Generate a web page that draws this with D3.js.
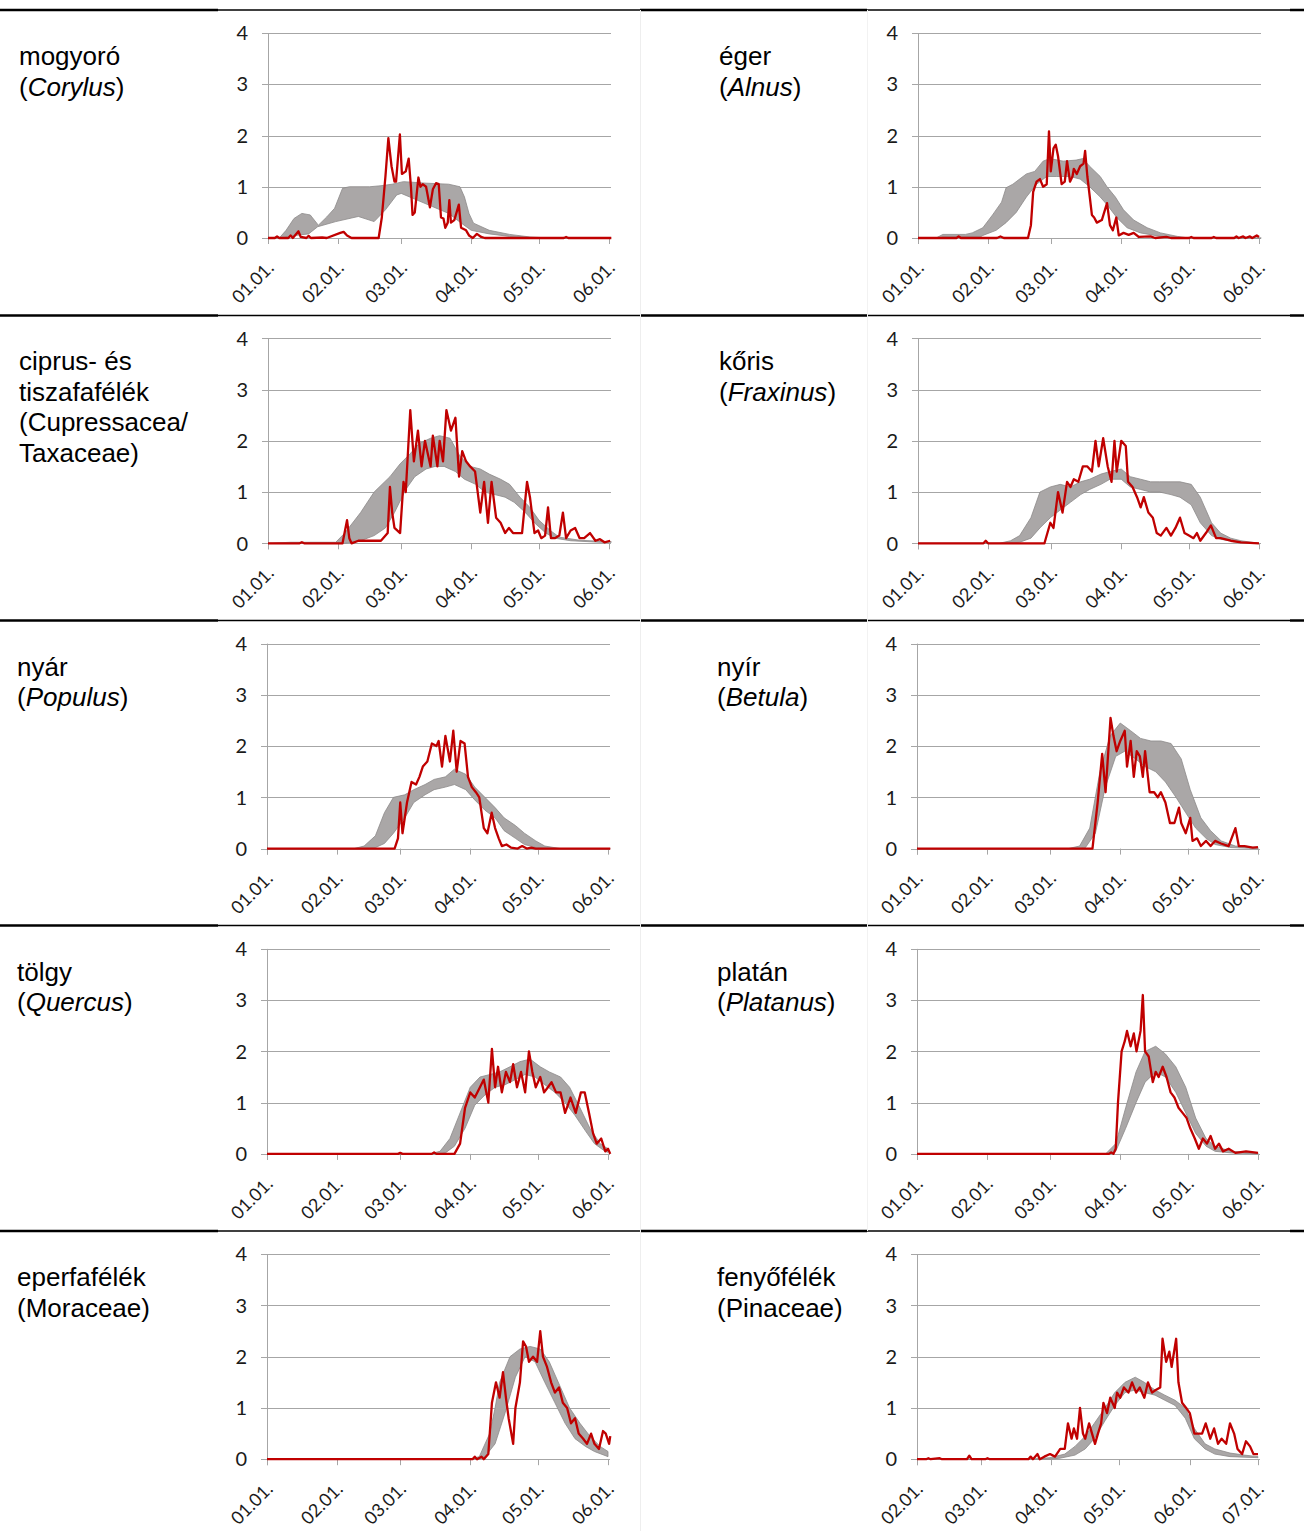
<!DOCTYPE html>
<html><head><meta charset="utf-8">
<script src="https://cdn.jsdelivr.net/npm/d3@7"></script>
<style>
html,body{margin:0;padding:0;background:#fff;}
svg{display:block;}
</style></head>
<body>
<svg id="chart" width="1304" height="1531"></svg>
<script>
// ---------- DATA (day offset from first tick date, value) ----------
const ticksJanJun = ["01.01.","02.01.","03.01.","04.01.","05.01.","06.01."];
const ticksFebJul = ["02.01.","03.01.","04.01.","05.01.","06.01.","07.01."];
const yTicks = [0,1,2,3,4];

const corylusHigh = [[0,0],[5,0],[8,0.15],[11.5,0.38],[15,0.48],[18.7,0.45],[22.3,0.25],[26,0.41],[29.5,0.58],[33,0.97],[36,1.0],[45,1.0],[50,1.02],[55,1.05],[60,1.1],[70,1.07],[80,1.05],[85,1.0],[87,0.8],[89,0.48],[91,0.29],[98,0.15],[107,0.07],[116,0.02],[125,0],[152,0]];
const corylusLow  = [[0,0],[6,0],[12,0.05],[18,0.08],[22,0.22],[30,0.32],[40,0.42],[47,0.32],[52,0.55],[57,0.84],[59,0.87],[66,0.74],[73,0.61],[80,0.48],[85.6,0.29],[90,0.15],[98,0.08],[107,0.03],[116,0.01],[125,0],[152,0]];
const corylusPollen = [[0,0],[3,0],[4,0.03],[5,0],[9,0],[10,0.05],[11,0],[13.5,0.13],[14.5,0.02],[17,0],[18,0.04],[19,0],[24,0.01],[26,0],[32,0.1],[33.5,0.12],[35,0.05],[37,0],[49,0],[50.4,0.4],[52,1.2],[53.3,1.95],[54.7,1.4],[56,1.1],[56.7,1.1],[58.4,2.02],[59.3,1.25],[61,1.3],[62.3,1.55],[63.3,1.0],[64,0.45],[65,0.5],[66.6,1.18],[67.5,1.0],[68.5,1.05],[70,1.0],[71.7,0.6],[73,0.95],[74.4,1.07],[75.6,1.05],[76.6,0.4],[77.7,0.38],[78.5,0.2],[79.6,0.3],[80.3,0.74],[81,0.3],[82.5,0.35],[84.5,0.65],[85.5,0.2],[87.7,0.15],[89,0.05],[90.7,0],[92.5,0.08],[94.4,0.02],[96,0],[131,0],[132,0.02],[133,0],[152,0]];

const alnusHigh = [[0,0],[8,0],[11,0.07],[21,0.07],[24,0.1],[28.7,0.2],[33,0.45],[37,0.7],[39,0.98],[42,1.05],[48,1.25],[51.7,1.3],[55.4,1.5],[58.4,1.55],[64.3,1.5],[70,1.52],[73,1.55],[76,1.4],[80.7,1.2],[83.7,1.0],[87.4,0.8],[91,0.55],[95.5,0.35],[101.5,0.2],[107.4,0.1],[115,0.03],[120,0],[152,0]];
const alnusLow  = [[0,0],[10,0],[11,0.03],[28,0.03],[28.7,0.05],[34.6,0.15],[39,0.3],[43.5,0.5],[48,0.8],[52.5,1.05],[57,1.2],[61.4,1.2],[67.3,1.2],[71.8,1.15],[76,1.0],[80.7,0.8],[83.7,0.65],[88,0.4],[92.6,0.2],[98.5,0.1],[107.4,0.03],[115,0],[152,0]];
const alnusPollen = [[0,0],[17,0],[18,0.03],[19,0],[35,0],[36.5,0.03],[38,0],[48.7,0],[50,0.25],[51,0.9],[52.5,1.1],[54,1.15],[55.4,1.0],[57,1.05],[58,2.08],[58.8,1.3],[60,1.75],[61,1.82],[62,1.6],[63.6,1.05],[65,1.1],[66,1.5],[67.3,1.1],[68.4,1.2],[69,1.35],[70.3,1.25],[71.8,1.4],[73.3,1.45],[74,1.7],[75,1.2],[77,0.45],[78,0.4],[79.2,0.3],[81.4,0.35],[83.7,0.68],[85,0.25],[86.3,0.15],[87.8,0.4],[88.9,0.05],[91,0.1],[93.3,0.06],[95.5,0.1],[97.8,0.02],[103,0.03],[105,0],[110,0.02],[112,0],[120,0],[121,0.02],[122,0],[130,0],[131,0.02],[132,0],[140,0],[141,0.03],[142,0],[144,0.03],[145,0],[147,0.03],[148,0],[150,0.05],[151,0.02]];

const cupressHigh = [[0,0],[10,0.02],[30,0.02],[34,0.2],[41,0.6],[47,1.0],[54,1.3],[58.5,1.55],[63,1.75],[67,1.95],[72,2.05],[76,2.1],[80.6,2.05],[85,1.7],[89.5,1.5],[94,1.45],[98,1.35],[103,1.25],[107,1.15],[111.6,0.9],[116,0.7],[120,0.45],[125,0.25],[129,0.12],[138,0.06],[147,0.04],[152,0.03]];
const cupressLow  = [[0,0],[34,0],[41,0.05],[47,0.15],[52,0.3],[56,0.6],[61,1.05],[65,1.3],[70,1.45],[74,1.5],[78,1.5],[83,1.4],[87,1.25],[92,1.15],[96,1.0],[100.5,0.95],[105,0.9],[109,0.8],[114,0.6],[118,0.4],[123,0.2],[127,0.1],[134,0.05],[147,0.02],[152,0.02]];
const cupressPollen = [[0,0],[14,0],[15,0.02],[16,0],[33,0],[35,0.45],[36,0.1],[37,0],[40,0.05],[50,0.05],[53,0.2],[54,1.1],[55,0.6],[56,0.3],[58.5,0.2],[60,1.2],[61,1.0],[63,2.6],[64.6,1.6],[66.4,2.2],[68,1.5],[69.5,2.0],[72,1.5],[73,2.1],[75,1.5],[76,2.0],[77.5,1.6],[79,2.6],[81,2.2],[83,2.45],[84.6,1.3],[86,1.8],[87.7,1.6],[89.5,1.5],[91.7,1.4],[94,0.6],[95.7,1.2],[97.4,0.4],[99,1.2],[101,0.5],[103,0.4],[105,0.2],[106.7,0.3],[108.5,0.2],[110.7,0.2],[112.5,0.2],[114.7,1.2],[116,0.9],[118,0.2],[119.6,0.25],[121,0.1],[122.7,0.15],[124,0.7],[125.3,0.1],[127,0.1],[129,0.15],[130.6,0.6],[132,0.1],[134,0.25],[136,0.3],[138,0.1],[140,0.1],[142.6,0.2],[145,0.05],[147,0.08],[149,0.02],[151.5,0.05]];

const fraxinusHigh = [[0,0],[36,0],[41,0.05],[45,0.15],[50,0.5],[54,1.0],[58.6,1.1],[63,1.15],[67.5,1.1],[72,1.2],[76,1.25],[81,1.35],[85,1.4],[90,1.45],[94,1.3],[98.6,1.25],[103,1.2],[107,1.2],[112,1.2],[116,1.2],[121,1.15],[125,0.9],[130,0.4],[134,0.2],[138.5,0.1],[143,0.05],[151,0]];
const fraxinusLow  = [[0,0],[40,0],[45,0.02],[50,0.1],[54,0.3],[58.6,0.5],[63,0.65],[67.5,0.8],[72,0.95],[76,1.05],[81,1.15],[85,1.25],[90,1.25],[94,1.1],[98.6,1.05],[103,1.0],[107,1.0],[112,0.95],[116,0.9],[121,0.75],[125,0.4],[130,0.15],[134,0.08],[140,0.03],[151,0]];
const fraxinusPollen = [[0,0],[29,0],[30,0.05],[31,0],[56,0],[58.6,0.4],[60,0.3],[62,1.0],[64,0.6],[66,1.2],[67.5,1.1],[69,1.25],[71,1.2],[73,1.5],[75,1.5],[77,1.4],[78.6,2.0],[80,1.5],[82,2.05],[84,1.5],[85.7,1.2],[87,2.0],[88,1.4],[90,2.0],[92,1.9],[93,1.2],[95,1.1],[97,0.9],[98.6,0.7],[100,0.9],[102,0.6],[104,0.5],[105.7,0.2],[107.5,0.15],[110,0.3],[112,0.15],[114,0.3],[116,0.5],[118,0.2],[120,0.15],[122,0.1],[123.5,0.2],[125,0.05],[127.5,0.2],[129.7,0.35],[132,0.1],[134,0.1],[138.5,0.05],[143,0.02],[151,0]];

const populusHigh = [[0,0],[38.5,0],[43,0.05],[48,0.25],[52,0.7],[56,1.0],[61,1.05],[65,1.15],[70,1.25],[74,1.35],[79,1.4],[83,1.55],[88,1.45],[92,1.2],[96.5,1.0],[101,0.8],[105,0.6],[110,0.45],[114,0.3],[119,0.15],[123,0.05],[130,0],[152,0]];
const populusLow  = [[0,0],[45,0],[48,0.02],[52,0.1],[56,0.3],[61,0.6],[65,0.9],[70,1.05],[74,1.15],[79,1.2],[83,1.25],[88,1.15],[92,0.95],[96.5,0.75],[101,0.6],[105,0.35],[110,0.2],[114,0.08],[120,0.01],[130,0],[152,0]];
const populusPollen = [[0,0],[56.5,0],[58,0.2],[59,0.9],[60,0.3],[62,0.9],[64,1.3],[66,1.25],[67.5,1.4],[69,1.6],[71,1.7],[73,2.05],[75,2.0],[76,2.1],[77.5,1.6],[79,2.2],[81,1.7],[82.5,2.3],[84,1.5],[85.7,2.1],[87.5,2.05],[89,1.4],[90.7,1.2],[92.5,1.1],[94,1.0],[96,0.4],[97.6,0.3],[99.5,0.7],[101,0.4],[102.6,0.2],[104,0.05],[106,0.08],[108,0.02],[111,0],[113,0.05],[115,0],[117,0.02],[119,0],[152,0]];

const betulaHigh = [[0,0],[67,0],[72,0.05],[76.5,0.4],[81,1.5],[85.5,2.2],[90,2.45],[94.6,2.3],[99,2.15],[103.6,2.1],[108,2.1],[112.5,2.05],[117,1.75],[121,1.15],[125.7,0.6],[130,0.35],[134.7,0.15],[141,0.05],[151,0.02]];
const betulaLow  = [[0,0],[72,0],[74.6,0.02],[79,0.3],[83.4,1.2],[88,1.8],[92,1.9],[96.8,1.75],[101,1.6],[105.7,1.5],[110,1.3],[114.7,1.0],[119,0.7],[123.4,0.4],[128,0.2],[132,0.08],[139,0.02],[151,0]];
const betulaPollen = [[0,0],[77.7,0],[80,0.9],[82,1.85],[83.5,1.1],[85.7,2.55],[87,2.2],[88.4,1.9],[90,2.1],[92,2.3],[93,1.6],[94.6,2.1],[96,1.4],[97.3,1.9],[98.7,1.8],[100,1.4],[101,1.9],[103,1.1],[105,1.1],[106.6,1.0],[108,1.1],[110,0.9],[112,0.5],[114,0.5],[116,0.8],[117,0.5],[119,0.3],[121,0.6],[122,0.15],[124,0.2],[125.7,0.05],[128,0.15],[130,0.05],[132,0.15],[134.6,0.1],[138,0.05],[141,0.4],[142.5,0.05],[145,0.05],[148.7,0.02],[151,0.03]];

const quercusHigh = [[0,0],[72,0],[76.6,0.05],[81,0.3],[85.5,0.8],[90,1.3],[94.3,1.5],[98.8,1.55],[103,1.6],[107.6,1.7],[112,1.8],[116.5,1.85],[121,1.7],[125,1.6],[130,1.5],[134,1.3],[138.6,0.9],[143,0.5],[147.5,0.2],[151,0.1]];
const quercusLow  = [[0,0],[76,0],[79,0.02],[83,0.15],[87.7,0.5],[92,0.95],[96.5,1.15],[101,1.3],[105.4,1.35],[110,1.45],[114.3,1.55],[118.7,1.5],[123,1.35],[127.5,1.2],[132,1.0],[136.4,0.75],[141,0.45],[145,0.2],[149.7,0.05],[151,0.03]];
const quercusPollen = [[0,0],[58,0],[59,0.02],[60,0],[73,0],[74,0.03],[75,0],[83,0],[85.5,0.2],[87.7,0.9],[90,1.2],[92,1.1],[94.3,1.3],[96,1.45],[98,1.0],[99.6,2.05],[101,1.3],[102.3,1.7],[104,1.2],[105.8,1.6],[107.6,1.4],[109,1.75],[110.7,1.3],[112.5,1.6],[114.3,1.2],[116,2.0],[117.5,1.6],[119,1.3],[121,1.5],[122.7,1.2],[124.4,1.3],[126,1.4],[128,1.2],[130,1.2],[132,0.8],[134.4,1.1],[136.7,0.8],[139,1.2],[140.7,1.2],[142.6,0.8],[144.4,0.4],[146,0.2],[148,0.3],[149.8,0.05],[151,0.1],[152,0]];

const platanusHigh = [[0,0],[83.5,0],[88,0.2],[92.4,0.9],[97,1.6],[101,2.0],[105.7,2.1],[110,1.95],[114.6,1.7],[119,1.3],[123.4,0.7],[128,0.3],[132,0.15],[139,0.05],[151,0.02]];
const platanusLow  = [[0,0],[86,0],[88,0.05],[92.4,0.5],[97,1.0],[101,1.4],[105.7,1.6],[110,1.5],[114.6,1.2],[119,0.8],[123.4,0.4],[128,0.15],[132,0.05],[139,0.02],[151,0]];
const platanusPollen = [[0,0],[85,0],[86,0.03],[87,0],[88,0.1],[89,1.0],[90.6,2.0],[92,2.2],[93,2.4],[94.6,2.1],[96,2.35],[97.2,2.0],[99,2.4],[100,3.1],[101,2.0],[102.6,1.9],[104.4,1.4],[105.7,1.6],[107,1.5],[108.8,1.7],[110.5,1.5],[112.3,1.2],[114,1.1],[115.8,0.9],[117.6,0.8],[119.4,0.7],[121,0.5],[123,0.3],[124.8,0.1],[126.6,0.3],[128.4,0.2],[130,0.35],[132,0.1],[133.7,0.2],[135.5,0.05],[138,0.1],[141,0.02],[145.7,0.05],[151,0.02]];

const moraceaeHigh = [[0,0],[90,0],[94,0.05],[98.6,0.5],[101,1.0],[103,1.5],[107.6,2.0],[112,2.15],[116.5,2.2],[121,2.15],[125,1.9],[130,1.4],[134,1.0],[138.6,0.7],[143,0.45],[147.5,0.25],[151,0.15]];
const moraceaeLow  = [[0,0],[94,0],[96.5,0.05],[101,0.3],[105.4,0.9],[110,1.6],[114.3,2.0],[118.7,1.9],[123,1.5],[127.5,1.1],[132,0.7],[136.4,0.4],[141,0.25],[145,0.15],[151,0.05]];
const moraceaePollen = [[0,0],[91,0],[92,0.05],[93,0],[95,0.05],[96,0],[98,0.1],[99.6,1.1],[101.4,1.5],[103,1.2],[104.5,1.7],[105.8,1.2],[107,0.8],[109,0.3],[110,1.0],[112,1.5],[113.4,2.3],[114.7,2.2],[116,1.9],[117.8,2.0],[119.6,1.9],[121,2.5],[122.2,2.0],[124,1.8],[125.8,1.5],[127.5,1.3],[129.3,1.4],[131,1.1],[132.9,1.0],[134.6,0.7],[136.4,0.8],[138,0.5],[140,0.4],[141.7,0.3],[143.5,0.5],[145,0.3],[147,0.2],[148.8,0.55],[150,0.5],[151.5,0.3],[152,0.45]];

const pinaceaeHigh = [[0,0],[50,0],[58.5,0.03],[65,0.1],[69.5,0.25],[74,0.45],[78,0.7],[82.7,1.0],[87,1.3],[91.5,1.5],[96,1.6],[100,1.5],[104.7,1.35],[109,1.25],[113.5,1.15],[118,1.0],[122,0.6],[126.7,0.3],[131,0.2],[137.7,0.12],[144,0.08],[150,0.05]];
const pinaceaeLow  = [[0,0],[58,0],[63,0.02],[69.5,0.08],[74,0.2],[78,0.4],[82.7,0.75],[87,1.05],[91.5,1.3],[96,1.35],[100,1.3],[104.7,1.25],[109,1.15],[113.5,1.05],[118,0.8],[122,0.4],[126.7,0.2],[131,0.1],[137.7,0.05],[150,0.03]];
const pinaceaePollen = [[0,0],[4,0],[5,0.02],[6,0],[10,0.02],[11,0],[22,0],[23,0.07],[24,0],[30,0],[31,0.02],[32,0],[49,0],[50,0.05],[51,0],[53,0.1],[54,0],[56,0.05],[58.5,0.1],[60.7,0.05],[63,0.2],[65,0.2],[66.4,0.7],[68,0.4],[69,0.6],[70.4,0.4],[71.7,1.0],[73,0.5],[74,0.4],[75.7,0.7],[77,0.5],[78.3,0.3],[79.6,0.5],[81,0.7],[82,1.1],[83.6,0.9],[85,1.2],[87,1.0],[88,1.3],[89.4,1.2],[91,1.4],[93,1.3],[94.6,1.5],[96.4,1.3],[98,1.4],[100,1.2],[101.6,1.5],[103.4,1.3],[105,1.35],[107,1.4],[108,2.35],[109.6,1.9],[111,2.1],[112,1.8],[114,2.35],[115,1.5],[116.6,1.1],[118.4,1.0],[120,0.9],[122,0.5],[123.6,0.5],[125.4,0.5],[127,0.7],[129,0.4],[130.7,0.6],[132.4,0.3],[134,0.4],[136,0.3],[137.7,0.7],[139.5,0.5],[141,0.2],[143,0.1],[144.7,0.35],[146.5,0.25],[148,0.1],[150,0.1]];

// ---------- PANELS ----------
const panels = [
  {lines:[["mogyoró",false]], latin:"Corylus", high:corylusHigh, low:corylusLow, pollen:corylusPollen, ticks:ticksJanJun, year:2013, row:0, col:0},
  {lines:[["éger",false]], latin:"Alnus", high:alnusHigh, low:alnusLow, pollen:alnusPollen, ticks:ticksJanJun, year:2013, row:0, col:1},
  {lines:[["ciprus- és",false],["tiszafafélék",false],["(Cupressacea/",false],["Taxaceae)",false]], latin:null, high:cupressHigh, low:cupressLow, pollen:cupressPollen, ticks:ticksJanJun, year:2013, row:1, col:0},
  {lines:[["kőris",false]], latin:"Fraxinus", high:fraxinusHigh, low:fraxinusLow, pollen:fraxinusPollen, ticks:ticksJanJun, year:2013, row:1, col:1},
  {lines:[["nyár",false]], latin:"Populus", high:populusHigh, low:populusLow, pollen:populusPollen, ticks:ticksJanJun, year:2013, row:2, col:0},
  {lines:[["nyír",false]], latin:"Betula", high:betulaHigh, low:betulaLow, pollen:betulaPollen, ticks:ticksJanJun, year:2013, row:2, col:1},
  {lines:[["tölgy",false]], latin:"Quercus", high:quercusHigh, low:quercusLow, pollen:quercusPollen, ticks:ticksJanJun, year:2013, row:3, col:0},
  {lines:[["platán",false]], latin:"Platanus", high:platanusHigh, low:platanusLow, pollen:platanusPollen, ticks:ticksJanJun, year:2013, row:3, col:1},
  {lines:[["eperfafélék",false],["(Moraceae)",false]], latin:null, high:moraceaeHigh, low:moraceaeLow, pollen:moraceaePollen, ticks:ticksJanJun, year:2013, row:4, col:0},
  {lines:[["fenyőfélék",false],["(Pinaceae)",false]], latin:null, high:pinaceaeHigh, low:pinaceaeLow, pollen:pinaceaePollen, ticks:ticksFebJul, year:2013, row:4, col:1}
];

// ---------- LAYOUT ----------
const svg = d3.select("#chart");
const rowH = 305.3;
const parseTick = (s, yr) => { const p = s.split("."); return new Date(Date.UTC(yr, +p[0]-1, +p[1])); };
const DAY = 86400000;

// table rules
const ruleYs = [10, 315.5, 620.5, 925.5, 1231];
const rules = svg.append("g");
ruleYs.forEach(yy => {
  rules.append("line").attr("x1",0).attr("x2",218).attr("y1",yy).attr("y2",yy).attr("stroke","#000").attr("stroke-width",2.5);
  rules.append("line").attr("x1",218).attr("x2",640).attr("y1",yy).attr("y2",yy).attr("stroke","#000").attr("stroke-width",1.5);
  rules.append("line").attr("x1",640).attr("x2",867).attr("y1",yy).attr("y2",yy).attr("stroke","#000").attr("stroke-width",2.5);
  rules.append("line").attr("x1",867).attr("x2",1290).attr("y1",yy).attr("y2",yy).attr("stroke","#000").attr("stroke-width",1.5);
  rules.append("line").attr("x1",1290).attr("x2",1304).attr("y1",yy).attr("y2",yy).attr("stroke","#000").attr("stroke-width",2.5);
});
rules.append("line").attr("x1",640.5).attr("x2",640.5).attr("y1",10).attr("y2",1531).attr("stroke","#eeeeee").attr("stroke-width",1);
rules.append("line").attr("x1",867.5).attr("x2",867.5).attr("y1",10).attr("y2",1231).attr("stroke","#f2f2f2").attr("stroke-width",1);

panels.forEach(p => {
  const late = p.row >= 2;
  const axisX = (p.col === 0 ? 268 : 918) - (late ? 1 : 0);
  const axisEnd = axisX + 341;
  const yTop = 33 + p.row * rowH;
  const yZero = 238 + p.row * rowH;
  const labelX = (p.col === 0 ? 19 : 719) - (late ? 2 : 0);

  const tickDates = p.ticks.map(t => parseTick(t, p.year));
  const x = d3.scaleUtc().domain([tickDates[0], tickDates[tickDates.length-1]]).range([axisX, axisEnd]);
  const y = d3.scaleLinear().domain([0, 4]).range([yZero, yTop]);
  const dt = d => new Date(tickDates[0].getTime() + d * DAY);

  const g = svg.append("g");

  // label
  const lab = g.append("text").attr("x", labelX).attr("y", 65 + p.row*rowH)
    .attr("font-family","'Liberation Sans', Arial, sans-serif").attr("font-size", 26).attr("fill","#000");
  p.lines.forEach((ln, i) => {
    lab.append("tspan").attr("x", labelX).attr("dy", i === 0 ? 0 : 30.5).text(ln[0]);
  });
  if (p.latin) {
    lab.append("tspan").attr("x", labelX).attr("dy", 30.5).text("(");
    lab.append("tspan").attr("font-style","italic").text(p.latin);
    lab.append("tspan").text(")");
  }

  // gridlines
  g.append("g").selectAll("line").data(yTicks).join("line")
    .attr("x1", axisX - 6).attr("x2", axisEnd + 2)
    .attr("y1", d => Math.round(y(d)) + 0.5).attr("y2", d => Math.round(y(d)) + 0.5)
    .attr("stroke", "#a6a6a6").attr("stroke-width", 1);
  // y axis line
  g.append("line").attr("x1", axisX + 0.5).attr("x2", axisX + 0.5).attr("y1", y(4)).attr("y2", yZero + 6)
    .attr("stroke", "#a6a6a6").attr("stroke-width", 1);
  // y labels
  g.append("g").selectAll("text").data(yTicks).join("text")
    .attr("x", axisX - 20).attr("y", d => y(d)).attr("dy", "0.36em")
    .attr("text-anchor","end").attr("font-family","Lato, 'Open Sans', sans-serif").attr("font-size", 20).attr("fill","#1a1a1a")
    .text(d => d);
  // x ticks
  g.append("g").selectAll("line").data(tickDates).join("line")
    .attr("x1", d => Math.round(x(d)) + 0.5).attr("x2", d => Math.round(x(d)) + 0.5)
    .attr("y1", yZero).attr("y2", yZero + 6).attr("stroke", "#a6a6a6").attr("stroke-width", 1);
  // x labels
  g.append("g").selectAll("text").data(tickDates).join("text")
    .attr("transform", (d) => `translate(${x(d) + 7},${yZero + 31}) rotate(-45)`)
    .attr("text-anchor","end").attr("font-family","Lato, 'Open Sans', sans-serif").attr("font-size", 18).attr("fill","#1a1a1a")
    .text((d, i) => p.ticks[i]);

  // band
  const bandPts = p.high.concat(p.low.slice().reverse());
  const poly = d3.line().x(d => x(dt(d[0]))).y(d => y(d[1]));
  g.append("path").attr("d", poly(bandPts) + "Z")
    .attr("fill", "#aaa7a7").attr("stroke", "#8c8989").attr("stroke-width", 0.8);

  // pollen line
  g.append("path").attr("d", poly(p.pollen)).attr("fill","none")
    .attr("stroke", "#c00000").attr("stroke-width", 2.3).attr("stroke-linejoin","round");
});
</script>
</body></html>
